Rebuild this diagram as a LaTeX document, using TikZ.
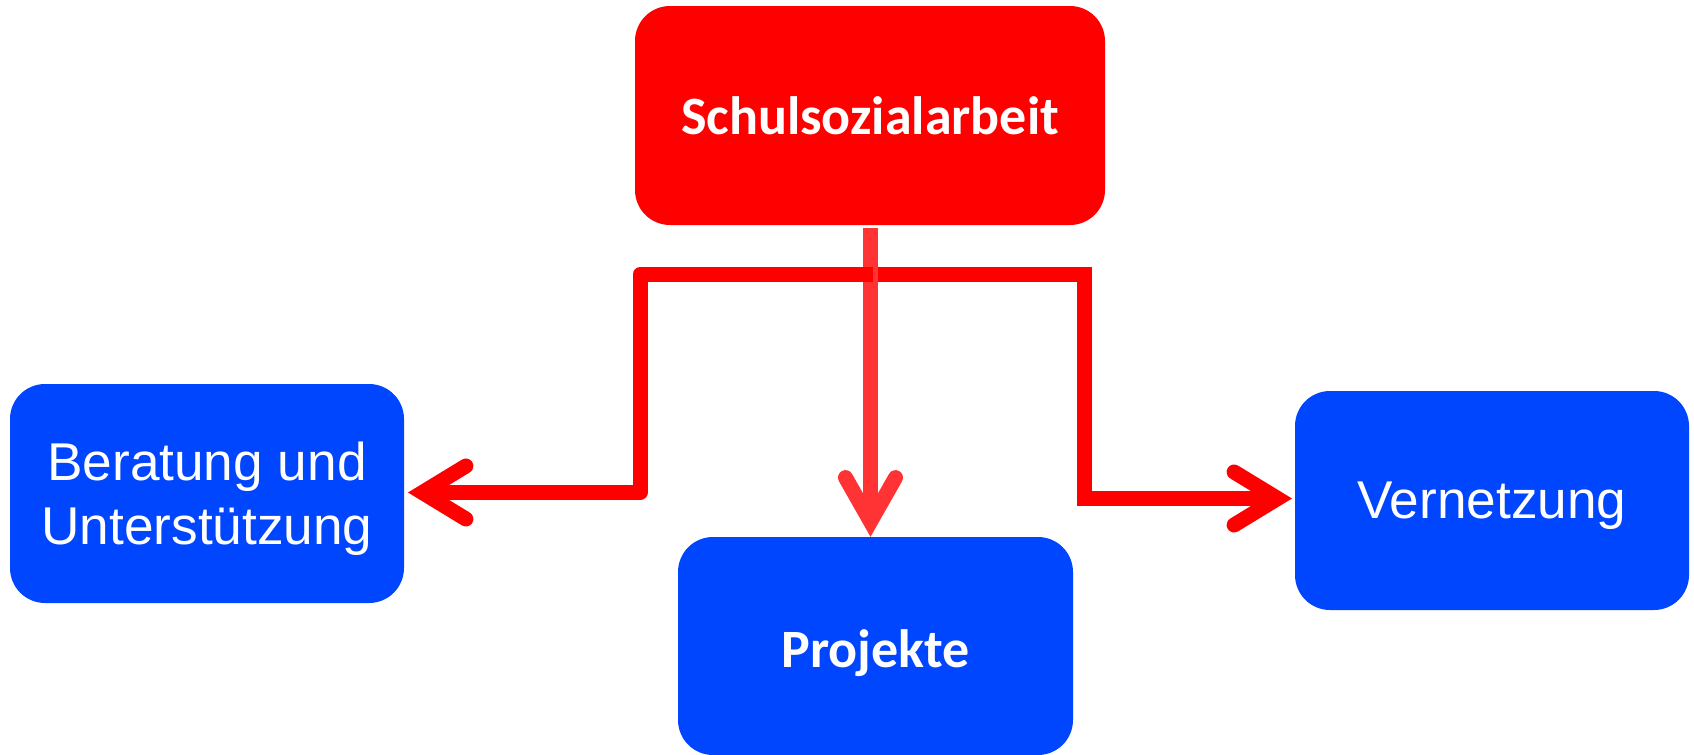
\documentclass[tikz,border=0pt]{standalone}
\usepackage{fontspec}
\setmainfont{Liberation Sans}
\newfontfamily\calib{Carlito}
\usetikzlibrary{calc}
\definecolor{boxred}{RGB}{255,0,0}
\definecolor{arrred}{RGB}{255,51,51}
\definecolor{boxblue}{RGB}{0,70,255}
\begin{document}
\begin{tikzpicture}[x=0.5pt,y=-0.5pt,
  box/.style={rounded corners=17.5pt, inner sep=0pt, align=center, text=white,
    minimum width=197pt, minimum height=109.5pt, text depth=0pt},
  redbox/.style={box, fill=boxred},
  bluebox/.style={box, fill=boxblue},
  boldlbl/.style={font=\calib\bfseries\fontsize{27}{32}\selectfont},
  plainlbl/.style={font=\fontsize{26.6}{32}\selectfont},
  conn/.style={draw=boxred, line width=7.5pt},
  connv/.style={draw=arrred, line width=7.5pt},
  chev/.style={line width=7.5pt, line cap=round, line join=miter},
]
\useasboundingbox (0,0) rectangle (1694,755);

\node[redbox, boldlbl, minimum width=235pt, text height=18.5pt] (s) at (870,115.5) {Schulsozialarbeit};
\node[bluebox, plainlbl, text height=50.5pt] (b) at (207,493.5) {Beratung und\\Unterstützung};
\node[bluebox, boldlbl, minimum width=197.5pt, minimum height=109pt, text height=21.2pt] (p) at (875.5,646) {Projekte};
\node[bluebox, plainlbl, text height=17.8pt] (v) at (1492,500.5) {Vernetzung};

% coordinates of connector ends
\coordinate (sR) at (870,274.5);
\coordinate (sL) at (873,274.5);
\coordinate (kL) at (640,274.5);
\coordinate (kR) at (1084,274.5);
\coordinate (lv) at ($(b.east)+(18,-1)$);
\coordinate (rv) at ($(v.west)+(-17,-2)$);
\coordinate (vs) at ($(s.south)+(0.5,3)$);
\coordinate (pv) at ($(p.north)+(-5,-15)$);

% right elbow connector
\draw[conn, line join=miter] (sR) -- (kR) |- (rv);
\draw[chev, draw=boxred] ($(rv)+(-43.5,-26.5)$) -- (rv) -- ($(rv)+(-43.5,26.5)$);

% vertical connector
\draw[connv] (vs) -- (pv);
\draw[chev, draw=arrred] ($(pv)+(-25,-44)$) -- (pv) -- ($(pv)+(25,-44)$);

% left elbow connector
\draw[conn, line join=round] (sL) -- (kL) |- (lv);
\draw[chev, draw=boxred] ($(lv)+(43.5,-26.5)$) -- (lv) -- ($(lv)+(43.5,26.5)$);
\end{tikzpicture}
\end{document}
